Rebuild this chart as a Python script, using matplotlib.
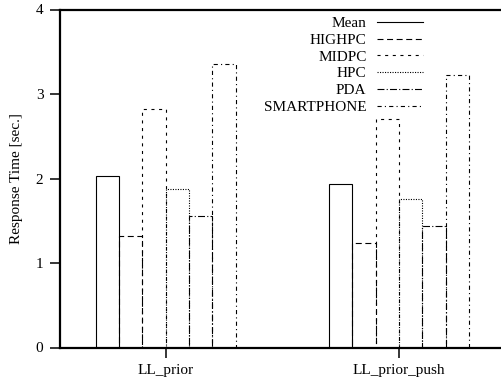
import matplotlib
matplotlib.use("Agg")
import matplotlib.pyplot as plt
from matplotlib.lines import Line2D
import numpy as np

plt.rcParams['font.family'] = ['Liberation Serif', 'DejaVu Serif']
plt.rcParams['lines.scale_dashes'] = False

groups = ["LL_prior", "LL_prior_push"]
series = ["Mean", "HIGHPC", "MIDPC", "HPC", "PDA", "SMARTPHONE"]
values = {
    "Mean":       [2.03, 1.94],
    "HIGHPC":     [1.32, 1.24],
    "MIDPC":      [2.82, 2.71],
    "HPC":        [1.87, 1.76],
    "PDA":        [1.56, 1.44],
    "SMARTPHONE": [3.35, 3.23],
}
yticks = [0, 1, 2, 3, 4]

styles = {
    "Mean": '-',
    "HIGHPC": (0, (4.3, 2.6)),
    "MIDPC": (0, (2.2, 3.3)),
    "HPC": (0, (0.8, 1.0)),
    "PDA": (0, (5.0, 1.6, 0.8, 1.6)),
    "SMARTPHONE": (0, (3.0, 2.3, 0.8, 2.3)),
}

W, H = 501, 388
fig = plt.figure(figsize=(W / 100, H / 100), dpi=100)
ax = fig.add_axes([60 / W, 1 - 347.5 / H, (W - 60) / W, (347.5 - 9.5) / H])

x = np.arange(len(groups))
bw = 0.1
for i, s in enumerate(series):
    off = (i - 2.5) * bw
    ax.bar(x + off, values[s], width=bw, fill=False, edgecolor='black',
           linewidth=0.8, linestyle=styles[s], zorder=2 + i)

ax.set_xlim(-0.453, 1.437)
ax.set_ylim(0, 4)
ax.set_xticks(x)
ax.set_xticklabels(groups, fontsize=11)
ax.set_yticks(yticks)
ax.set_yticklabels([str(t) for t in yticks], fontsize=11)
ax.set_ylabel("Response Time [sec.]", fontsize=11, labelpad=9)
ax.tick_params(axis='both', direction='out', length=7, width=1.1, pad=5)
for sp in ['top', 'left', 'bottom']:
    ax.spines[sp].set_linewidth(1.6)
ax.spines['right'].set_visible(False)

handles = [Line2D([0], [0], color='black', linewidth=0.8, linestyle=styles[s]) for s in series]
fig.legend(handles, series, loc='upper right', bbox_to_anchor=(423 / W, 1 - 16.5 / H),
           bbox_transform=fig.transFigure, frameon=False, markerfirst=False,
           fontsize=11, handlelength=3.0, handletextpad=0.7, labelspacing=0.2,
           borderpad=0, borderaxespad=0)

fig.savefig("out.png", dpi=100)
